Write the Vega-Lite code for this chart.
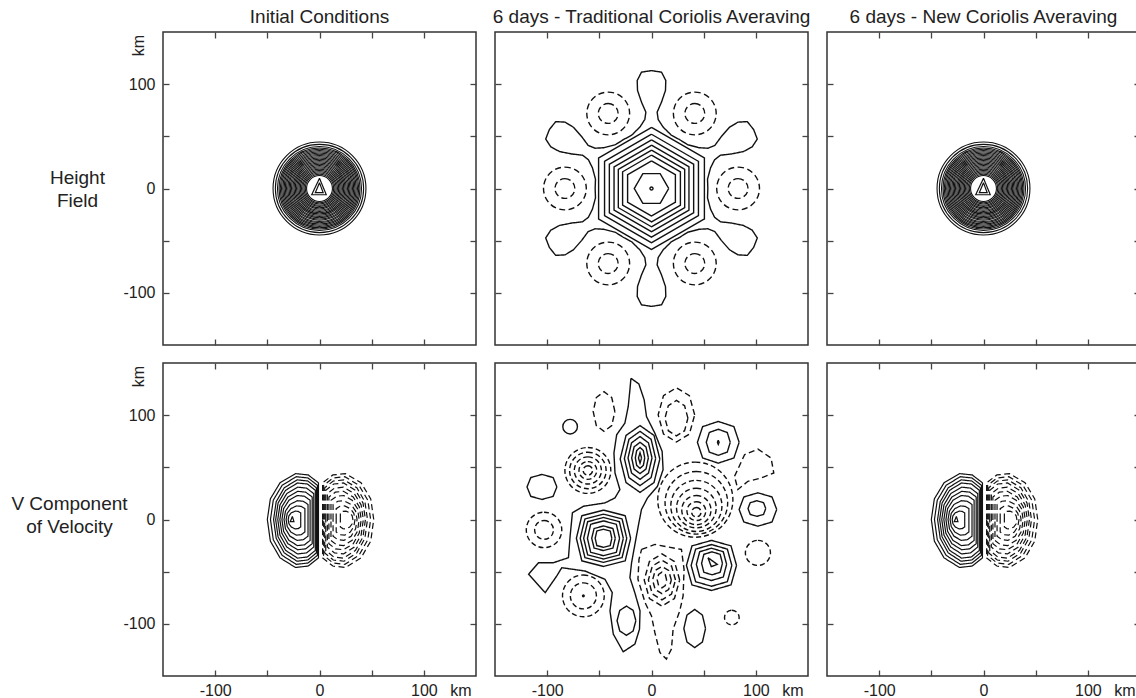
{
"$schema":"https://vega.github.io/schema/vega-lite/v6.json",
"padding":{"left":10,"top":7,"right":0,"bottom":0},
"config":{
 "font":"Liberation Sans",
 "view":{"stroke":"#333","strokeWidth":1.5},
 "axis":{"domain":false,"grid":false,"tickSize":-6,"tickColor":"#444","tickWidth":1.3,"labelFontSize":16,"labelColor":"#222","labelFont":"Liberation Sans","titleFont":"Liberation Sans","titleFontSize":19,"titleFontWeight":"normal","titleColor":"#222"},
 "title":{"anchor":"middle","fontSize":19,"fontWeight":"normal","color":"#222","offset":0,"font":"Liberation Sans"}
},
"datasets":{
"lines":[
{"p":"A","id":"A1","d":"s","xs":[0,-7.5,6.5,0],"ys":[9.8,-6,-6,9.8]},
{"p":"A","id":"A2","d":"s","xs":[0,-4,3.5,0],"ys":[5.5,-4,-4,5.5]},
{"p":"B","id":"H1","d":"s","xs":[0,50.7,50.7,0,-50.7,-50.7,0],"ys":[58.5,29.25,-29.25,-58.5,-29.25,29.25,58.5]},
{"p":"B","id":"H2","d":"s","xs":[0,45,45,0,-45,-45,0],"ys":[52,26,-26,-52,-26,26,52]},
{"p":"B","id":"H3","d":"s","xs":[0,40.4,40.4,0,-40.4,-40.4,0],"ys":[46.6,23.3,-23.3,-46.6,-23.3,23.3,46.6]},
{"p":"B","id":"H4","d":"s","xs":[0,35.9,35.9,0,-35.9,-35.9,0],"ys":[41.5,20.75,-20.75,-41.5,-20.75,20.75,41.5]},
{"p":"B","id":"H5","d":"s","xs":[0,31.8,31.8,0,-31.8,-31.8,0],"ys":[36.7,18.35,-18.35,-36.7,-18.35,18.35,36.7]},
{"p":"B","id":"H6","d":"s","xs":[0,27.7,27.7,0,-27.7,-27.7,0],"ys":[32,16,-16,-32,-16,16,32]},
{"p":"B","id":"H7","d":"s","xs":[0,22.9,22.9,0,-22.9,-22.9,0],"ys":[26.4,13.2,-13.2,-26.4,-13.2,13.2,26.4]},
{"p":"B","id":"H8","d":"s","xs":[16.5,8.25,-8.25,-16.5,-8.25,8.25,16.5],"ys":[0,14.3,14.3,0,-14.3,-14.3,0]},
{"p":"B","id":"star","d":"s",
"xs":[54,53.7,56.6,60.5,66.1,76.5,88.1,96.5,101.4,97.9,91.8,82.8,74.7,66.9,60.7,54.1,45.5,34.6,
27,19.1,11.1,6.4,5.4,9.6,13.4,13.7,9.6,0,-9.6,-13.7,-13.4,-9.6,-5.4,-6.4,-11.1,-19.1,
-27,-34.6,-45.5,-54.1,-60.7,-66.9,-74.7,-82.8,-91.8,-97.9,-101.4,-96.5,-88.1,-76.5,-66.1,-60.5,-56.6,-53.7,
-54,-53.7,-56.6,-60.5,-66.1,-76.5,-88.1,-96.5,-101.4,-97.9,-91.8,-82.8,-74.7,-66.9,-60.7,-54.1,-45.5,-34.6,
-27,-19.1,-11.1,-6.4,-5.4,-9.6,-13.4,-13.7,-9.6,0,9.6,13.7,13.4,9.6,5.4,6.4,11.1,19.1,
27,34.6,45.5,54.1,60.7,66.9,74.7,82.8,91.8,97.9,101.4,96.5,88.1,76.5,66.1,60.5,56.6,53.7,54],
"ys":[0,9,19.8,27.6,31.9,33.1,35.4,39.9,47.4,56.5,64.1,63.6,58.6,49.7,41.3,38.6,39.1,42,
46.8,51,58.9,66.2,73.2,82.8,94,103.5,111.5,113,111.5,103.5,94,82.8,73.2,66.2,58.9,51,
46.8,42,39.1,38.6,41.3,49.7,58.6,63.6,64.1,56.5,47.4,39.9,35.4,33.1,31.9,27.6,19.8,9,
0,-9,-19.8,-27.6,-31.9,-33.1,-35.4,-39.9,-47.4,-56.5,-64.1,-63.6,-58.6,-49.7,-41.3,-38.6,-39.1,-42,
-46.8,-51,-58.9,-66.2,-73.2,-82.8,-94,-103.5,-111.5,-113,-111.5,-103.5,-94,-82.8,-73.2,-66.2,-58.9,-51,
-46.8,-42,-39.1,-38.6,-41.3,-49.7,-58.6,-63.6,-64.1,-56.5,-47.4,-39.9,-35.4,-33.1,-31.9,-27.6,-19.8,-9,0]},
{"p":"D","id":"k0","d":"s","xs":[-1,-1,-10.8,-23,-37.8,-47.1,-50,-47.1,-37.8,-23,-10.8,-1,-1],"ys":[0,35.2,42.7,44,35.2,19.8,0,-20.7,-36.8,-46,-44.6,-36.8,0]},
{"p":"D","id":"k1","d":"s","xs":[-2,-2,-11,-22.3,-35.8,-44.3,-47,-44.3,-35.8,-22.3,-11,-2,-2],"ys":[0,32.8,39.8,41,32.8,18.5,0,-19.4,-34.4,-43,-41.7,-34.4,0]},
{"p":"D","id":"k2","d":"s","xs":[-3,-3,-11.2,-21.5,-33.8,-41.5,-44,-41.5,-33.8,-21.5,-11.2,-3,-3],"ys":[0,30.4,36.9,38,30.4,17.1,0,-18,-32,-40,-38.8,-32,0]},
{"p":"D","id":"k3","d":"s","xs":[-4,-4,-11.6,-21.1,-32.5,-39.7,-42,-39.7,-32.5,-21.1,-11.6,-4,-4],"ys":[0,28,34,35,28,15.8,0,-16.7,-29.6,-37,-35.9,-29.6,0]},
{"p":"D","id":"k4","d":"s","xs":[-5.5,-5.5,-12.4,-21,-31.4,-37.9,-40,-37.9,-31.4,-21,-12.4,-5.5,-5.5],"ys":[0,24.8,30.1,31,24.8,14,0,-14.9,-26.4,-33,-32,-26.4,0]},
{"p":"D","id":"k5","d":"s","xs":[-7,-7,-13.2,-21,-30.3,-36.1,-38,-36.1,-30.3,-21,-13.2,-7,-7],"ys":[0,21.6,26.2,27,21.6,12.2,0,-13.1,-23.2,-29,-28.1,-23.2,0]},
{"p":"D","id":"k6","d":"s","xs":[-9,-9,-14.4,-21.2,-29.3,-34.4,-36,-34.4,-29.3,-21.2,-14.4,-9,-9],"ys":[0,18.4,22.3,23,18.4,10.4,0,-11.3,-20,-25,-24.3,-20,0]},
{"p":"D","id":"k7","d":"s","xs":[-11,-11,-15.6,-21.4,-28.3,-32.6,-34,-32.6,-28.3,-21.4,-15.6,-11,-11],"ys":[0,14.4,17.5,18,14.4,8.1,0,-9,-16,-20,-19.4,-16,0]},
{"p":"D","id":"k8","d":"s","xs":[-14,-14,-17.6,-22.1,-27.5,-30.9,-32,-30.9,-27.5,-22.1,-17.6,-14,-14],"ys":[0,10.4,12.6,13,10.4,5.9,0,-6.8,-12,-15,-14.6,-12,0]},
{"p":"D","id":"k9","d":"s","xs":[-18,-18,-20.4,-23.4,-27,-29.3,-30,-29.3,-27,-23.4,-20.4,-18,-18],"ys":[0,6.4,7.8,8,6.4,3.6,0,-4.1,-7.2,-9,-8.7,-7.2,0]},
{"p":"D","id":"k10","d":"s","xs":[-26,-28,-24.5,-26],"ys":[3,-2,-2,3]},
{"p":"D","id":"m0","d":"d","xs":[3,3,12.8,25,39.8,49.1,52,49.1,39.8,25,12.8,3,3],"ys":[0,35.2,42.7,44,35.2,19.8,0,-20.7,-36.8,-46,-44.6,-36.8,0]},
{"p":"D","id":"m1","d":"d","xs":[4,4,13,24.3,37.8,46.3,49,46.3,37.8,24.3,13,4,4],"ys":[0,32.8,39.8,41,32.8,18.5,0,-19.4,-34.4,-43,-41.7,-34.4,0]},
{"p":"D","id":"m2","d":"d","xs":[5,5,13.2,23.5,35.8,43.5,46,43.5,35.8,23.5,13.2,5,5],"ys":[0,30.4,36.9,38,30.4,17.1,0,-18,-32,-40,-38.8,-32,0]},
{"p":"D","id":"m3","d":"d","xs":[6,6,13.6,23.1,34.5,41.7,44,41.7,34.5,23.1,13.6,6,6],"ys":[0,28,34,35,28,15.8,0,-16.7,-29.6,-37,-35.9,-29.6,0]},
{"p":"D","id":"m4","d":"d","xs":[7.5,7.5,14.4,23,33.4,39.9,42,39.9,33.4,23,14.4,7.5,7.5],"ys":[0,24.8,30.1,31,24.8,14,0,-14.9,-26.4,-33,-32,-26.4,0]},
{"p":"D","id":"m5","d":"d","xs":[9,9,15.2,23,32.3,38.1,40,38.1,32.3,23,15.2,9,9],"ys":[0,21.6,26.2,27,21.6,12.2,0,-13.1,-23.2,-29,-28.1,-23.2,0]},
{"p":"D","id":"m6","d":"d","xs":[11,11,16.4,23.2,31.3,36.4,38,36.4,31.3,23.2,16.4,11,11],"ys":[0,18.4,22.3,23,18.4,10.4,0,-11.3,-20,-25,-24.3,-20,0]},
{"p":"D","id":"m7","d":"d","xs":[13,13,17.6,23.4,30.3,34.6,36,34.6,30.3,23.4,17.6,13,13],"ys":[0,14.4,17.5,18,14.4,8.1,0,-9,-16,-20,-19.4,-16,0]},
{"p":"D","id":"m8","d":"d","xs":[16,16,19.6,24.1,29.5,32.9,34,32.9,29.5,24.1,19.6,16,16],"ys":[0,10.4,12.6,13,10.4,5.9,0,-6.8,-12,-15,-14.6,-12,0]},
{"p":"D","id":"m9","d":"d","xs":[20,20,22.4,25.4,29,31.3,32,31.3,29,25.4,22.4,20,20],"ys":[0,6.4,7.8,8,6.4,3.6,0,-4.1,-7.2,-9,-8.7,-7.2,0]},
{"p":"E","id":"big","d":"s",
"xs":[-19.7,-12.1,-7,-4.8,3.2,10.2,11.1,5.7,-3.8,-9.6,-12.7,-15.9,-19.1,-20.7,-16,-11,-11.5,-15.9,-27.1,-36.6,-39.8,-37.6,-44.6,-63.7,-86,-90.8,-101.9,-117.8,-108.3,-94,-79.6,-78,-75.8,-65.3,-44.6,-35,-30.3,-35,-36,-33.4,-25.5,-22.3,-20.7,-19.7],
"ys":[135.4,129.9,114.6,98.7,82.8,65.3,47.8,31.8,20.7,9.6,-6.4,-23.9,-41.4,-55.7,-70.1,-87.6,-105.1,-119.4,-126.8,-109.9,-87.6,-70.1,-57.3,-49.4,-46.2,-54.1,-70.1,-52.5,-41.4,-41.4,-36.6,-15.9,6.4,12.7,15.9,20.7,28.7,44.6,63.7,81.2,92.4,108.3,124.2,135.4]},
{"p":"E","id":"c1","d":"s","xs":[8,2.4,-11,-24.4,-30,-24.4,-11,2.4,8],"ys":[58,80.6,90,80.6,58,35.4,26,35.4,58]},
{"p":"E","id":"c2","d":"s","xs":[4,-0.4,-11,-21.6,-26,-21.6,-11,-0.4,4],"ys":[58.5,76.9,84.5,76.9,58.5,40.1,32.5,40.1,58.5]},
{"p":"E","id":"c3","d":"s","xs":[0.5,-2.9,-11,-19.1,-22.5,-19.1,-11,-2.9,0.5],"ys":[59,73.5,79.5,73.5,59,44.5,38.5,44.5,59]},
{"p":"E","id":"c4","d":"s","xs":[-3,-5.3,-11,-16.7,-19,-16.7,-11,-5.3,-3],"ys":[59,69.6,74,69.6,59,48.4,44,48.4,59]},
{"p":"E","id":"c5","d":"s","xs":[-6.5,-7.8,-11,-14.2,-15.5,-14.2,-11,-7.8,-6.5],"ys":[59,66.1,69,66.1,59,51.9,49,51.9,59]},
{"p":"E","id":"c6","d":"s","xs":[-9.5,-11,-12.5,-11,-9.5],"ys":[59,64,59,54,59]},
{"p":"E","id":"d1","d":"s","xs":[-20,-25.2,-46,-66.8,-72,-66.8,-46,-25.2,-20],"ys":[-18,3.6,9,3.6,-18,-39.6,-45,-39.6,-18]},
{"p":"E","id":"d2","d":"s","xs":[-23.7,-28.2,-46,-63.8,-68.3,-63.8,-46,-28.2,-23.7],"ys":[-18,0.5,5.1,0.5,-18,-36.5,-41.1,-36.5,-18]},
{"p":"E","id":"d3","d":"s","xs":[-27,-30.8,-46,-61.2,-65,-61.2,-46,-30.8,-27],"ys":[-18,-2.1,1.9,-2.1,-18,-33.9,-37.9,-33.9,-18]},
{"p":"E","id":"d4","d":"s","xs":[-30.6,-33.7,-46,-58.3,-61.4,-58.3,-46,-33.7,-30.6],"ys":[-18,-4.6,-1.3,-4.6,-18,-31.4,-34.7,-31.4,-18]},
{"p":"E","id":"d5","d":"s","xs":[-34.7,-37,-46,-55,-57.3,-55,-46,-37,-34.7],"ys":[-18,-8.6,-6.2,-8.6,-18,-27.4,-29.8,-27.4,-18]},
{"p":"E","id":"d6","d":"s","xs":[-38,-39.6,-46,-52.4,-54,-52.4,-46,-39.6,-38],"ys":[-18,-11,-9.3,-11,-18,-25,-26.7,-25,-18]},
{"p":"E","id":"e1","d":"s","xs":[81.5,76.2,57.5,38.8,33.5,38.8,57.5,76.2,81.5],"ys":[-44,-25.3,-20,-25.3,-44,-62.7,-68,-62.7,-44]},
{"p":"E","id":"e2","d":"s","xs":[77,72.7,57.5,42.3,38,42.3,57.5,72.7,77],"ys":[-44,-28.4,-24,-28.4,-44,-59.6,-64,-59.6,-44]},
{"p":"E","id":"e3","d":"s","xs":[72,68.8,57.5,46.2,43,46.2,57.5,68.8,72],"ys":[-43,-30.9,-27.5,-30.9,-43,-55.1,-58.5,-55.1,-43]},
{"p":"E","id":"e4","d":"s","xs":[68,65.8,58,50.2,48,50.2,58,65.8,68],"ys":[-42,-33.4,-31,-33.4,-42,-50.6,-53,-50.6,-42]},
{"p":"E","id":"e5","d":"s","xs":[54.1,63,57.3,54.1],"ys":[-36.6,-43,-45.2,-36.6]},
{"p":"E","id":"f1","d":"s","xs":[84,79,64,49,44,49,64,79,84],"ys":[74,89,94,89,74,59,54,59,74]},
{"p":"E","id":"f2","d":"s","xs":[75.5,72.6,64,55.4,52.5,55.4,64,72.6,75.5],"ys":[74,83.4,86.5,83.4,74,64.6,61.5,64.6,74]},
{"p":"E","id":"f3","d":"s","xs":[64,64.8,64,63.2,64],"ys":[76,74,72,74,76]},
{"p":"E","id":"g1","d":"s","xs":[120,115.5,102,88.5,84,88.5,102,115.5,120],"ys":[9.6,21.6,25.6,21.6,9.6,-2.4,-6.4,-2.4,9.6]},
{"p":"E","id":"g2","d":"s","xs":[109.5,107.4,101,94.6,92.5,94.6,101,107.4,109.5],"ys":[10.5,16.1,18,16.1,10.5,4.9,3,4.9,10.5]},
{"p":"E","id":"b","d":"s","xs":[-90.7,-94.3,-105,-115.7,-119.3,-115.7,-105,-94.3,-90.7],"ys":[31.2,40.2,43.2,40.2,31.2,22.2,19.2,22.2,31.2]},
{"p":"E","id":"h","d":"s","xs":[-15,-17.6,-24,-30.4,-33,-30.4,-24,-17.6,-15],"ys":[-97,-87.1,-83,-87.1,-97,-106.9,-111,-106.9,-97]},
{"p":"E","id":"i","d":"s","xs":[51.8,48.8,41.4,34,31,34,41.4,48.8,51.8],"ys":[-104.5,-91.6,-86.2,-91.6,-104.5,-117.4,-122.8,-117.4,-104.5]},
{"p":"E","id":"k","d":"d","xs":[-35.1,-38.1,-45.5,-52.9,-55.9,-52.9,-45.5,-38.1,-35.1],"ys":[103.5,116.9,122.5,116.9,103.5,90.1,84.5,90.1,103.5]},
{"p":"E","id":"l1","d":"d","xs":[41.4,36.3,23.9,11.5,6.4,11.5,23.9,36.3,41.4],"ys":[100.3,118.7,126.3,118.7,100.3,81.9,74.3,81.9,100.3]},
{"p":"E","id":"l2","d":"d","xs":[34.9,31.7,23.9,16.1,12.9,16.1,23.9,31.7,34.9],"ys":[97.1,109.1,114.1,109.1,97.1,85.1,80.1,85.1,97.1]},
{"p":"E","id":"q","d":"d","xs":[79.6,89.2,102,114.6,117.2,105.1,92.4,82.8,79.6],"ys":[41.4,62.1,67.5,58.9,44.6,39.8,36.6,28.7,41.4]},
{"p":"E","id":"t","d":"d","xs":[-9.5,3.2,28.7,31.2,30.3,27.1,20.7,19.1,14.3,8,3.2,0,-6,-13,-12,-9.5],"ys":[-28.7,-23.9,-28.7,-47.8,-73.2,-87.6,-105.1,-124.2,-133.8,-127.4,-108.3,-92.4,-80,-57.3,-38.2,-28.7]},
{"p":"E","id":"t1","d":"d","xs":[27,22,10,-2,-7,-2,10,22,27],"ys":[-58,-40.3,-33,-40.3,-58,-75.7,-83,-75.7,-58]},
{"p":"E","id":"t2","d":"d","xs":[23,19.2,10,0.8,-3,0.8,10,19.2,23],"ys":[-58,-44.6,-39,-44.6,-58,-71.4,-77,-71.4,-58]},
{"p":"E","id":"t3","d":"d","xs":[19,16.4,10,3.6,1,3.6,10,16.4,19],"ys":[-58,-48.8,-45,-48.8,-58,-67.2,-71,-67.2,-58]},
{"p":"E","id":"t4","d":"d","xs":[14.5,13.2,10,6.8,5.5,6.8,10,13.2,14.5],"ys":[-58,-52.7,-50.5,-52.7,-58,-63.3,-65.5,-63.3,-58]}
],
"circ":[
{"p":"A","cx":0,"cy":0,"r":44.5,"d":"s"},{"p":"A","cx":0,"cy":0,"r":42.3,"d":"s"},{"p":"A","cx":0,"cy":0,"r":40.3,"d":"s"},
{"p":"A","cx":0,"cy":0,"r":38.8,"d":"s"},{"p":"A","cx":0,"cy":0,"r":37.6,"d":"s"},{"p":"A","cx":0,"cy":0,"r":36.4,"d":"s"},{"p":"A","cx":0,"cy":0,"r":35.2,"d":"s"},
{"p":"A","cx":0,"cy":0,"r":34,"d":"s"},{"p":"A","cx":0,"cy":0,"r":32.8,"d":"s"},{"p":"A","cx":0,"cy":0,"r":31.6,"d":"s"},{"p":"A","cx":0,"cy":0,"r":30.4,"d":"s"},
{"p":"A","cx":0,"cy":0,"r":29.2,"d":"s"},{"p":"A","cx":0,"cy":0,"r":28,"d":"s"},{"p":"A","cx":0,"cy":0,"r":26.8,"d":"s"},{"p":"A","cx":0,"cy":0,"r":25.6,"d":"s"},
{"p":"A","cx":0,"cy":0,"r":24.4,"d":"s"},{"p":"A","cx":0,"cy":0,"r":23.2,"d":"s"},{"p":"A","cx":0,"cy":0,"r":22,"d":"s"},{"p":"A","cx":0,"cy":0,"r":20.8,"d":"s"},
{"p":"A","cx":0,"cy":0,"r":19.6,"d":"s"},{"p":"A","cx":0,"cy":0,"r":18.4,"d":"s"},{"p":"A","cx":0,"cy":0,"r":17.2,"d":"s"},{"p":"A","cx":0,"cy":0,"r":16,"d":"s"},
{"p":"A","cx":0,"cy":0,"r":14.8,"d":"s"},{"p":"A","cx":0,"cy":0,"r":13.6,"d":"s"},{"p":"A","cx":0,"cy":0,"r":12.4,"d":"s"},
{"p":"B","cx":83,"cy":0,"r":20.5,"d":"d"},{"p":"B","cx":83,"cy":0,"r":9.5,"d":"d"},
{"p":"B","cx":41.5,"cy":71.9,"r":20.5,"d":"d"},{"p":"B","cx":41.5,"cy":71.9,"r":9.5,"d":"d"},
{"p":"B","cx":-41.5,"cy":71.9,"r":20.5,"d":"d"},{"p":"B","cx":-41.5,"cy":71.9,"r":9.5,"d":"d"},
{"p":"B","cx":-83,"cy":0,"r":20.5,"d":"d"},{"p":"B","cx":-83,"cy":0,"r":9.5,"d":"d"},
{"p":"B","cx":-41.5,"cy":-71.9,"r":20.5,"d":"d"},{"p":"B","cx":-41.5,"cy":-71.9,"r":9.5,"d":"d"},
{"p":"B","cx":41.5,"cy":-71.9,"r":20.5,"d":"d"},{"p":"B","cx":41.5,"cy":-71.9,"r":9.5,"d":"d"},
{"p":"B","cx":0,"cy":0,"r":1.5,"d":"s"},
{"p":"E","cx":-78,"cy":89,"r":7,"d":"s"},
{"p":"E","cx":-61,"cy":47,"r":22,"d":"d"},{"p":"E","cx":-61,"cy":47,"r":17.5,"d":"d"},{"p":"E","cx":-61,"cy":47,"r":13,"d":"d"},{"p":"E","cx":-61,"cy":47,"r":8.5,"d":"d"},{"p":"E","cx":-61,"cy":47,"r":4.5,"d":"d"},
{"p":"E","cx":-103,"cy":-10,"r":17,"d":"d"},{"p":"E","cx":-103,"cy":-10,"r":9,"d":"d"},
{"p":"E","cx":-65.3,"cy":-73.2,"r":20,"d":"d"},{"p":"E","cx":-65.3,"cy":-73.2,"r":12.5,"d":"d"},{"p":"E","cx":-65.3,"cy":-73.2,"r":0.8,"d":"s"},
{"p":"E","cx":42,"cy":19,"r":36,"d":"d"},{"p":"E","cx":43,"cy":16,"r":30,"d":"d"},{"p":"E","cx":43,"cy":13,"r":24.5,"d":"d"},{"p":"E","cx":43,"cy":11,"r":19,"d":"d"},{"p":"E","cx":43,"cy":9,"r":14,"d":"d"},{"p":"E","cx":43,"cy":8,"r":9,"d":"d"},{"p":"E","cx":43,"cy":7,"r":4.5,"d":"d"},
{"p":"E","cx":102,"cy":-32,"r":12,"d":"d"},
{"p":"E","cx":77,"cy":-94,"r":7,"d":"d"}
]
},
"columns":3,
"spacing":{"row":18,"column":19},
"bounds":"flush",
"concat":[
{"width":313,"height":313,"title":"Initial Conditions","resolve":{"axis":{"x":"independent","y":"independent"}},
 "layer":[
  {"data":{"values":[{"x":0,"y":0}]},"mark":{"type":"point","opacity":0},"encoding":{
   "x":{"field":"x","type":"quantitative","scale":{"domain":[-150,150],"nice":false,"zero":false},"axis":{"orient":"bottom","values":[-100,-50,0,50,100],"labels":false,"title":null}},
   "y":{"field":"y","type":"quantitative","scale":{"domain":[-150,150],"nice":false,"zero":false},"axis":{"orient":"left","values":[-100,-50,0,50,100,137.5],"labelExpr":"datum.value > 120 ? 'km' : (abs(datum.value) == 50 ? '' : '' + datum.value)","tickOpacity":{"condition":{"test":"datum.value > 120","value":0},"value":1},"labelPadding":{"condition":{"test":"datum.value > 120","value":23},"value":14},"labelAlign":{"condition":{"test":"datum.value > 120","value":"center"},"value":"right"},"labelBaseline":{"condition":{"test":"datum.value > 120","value":"bottom"},"value":"middle"},"labelAngle":{"expr":"datum.value > 120 ? 270 : 0"},"labelOverlap":false,"labelFlush":false,"title":["Height","Field"],"titleAngle":0,"titleAlign":"center","titleBaseline":"middle","titleX":-86,"titleY":145,"titleLineHeight":23}}}},
  {"data":{"values":[{"x":0,"y":0}]},"mark":{"type":"point","opacity":0},"encoding":{
   "x":{"field":"x","type":"quantitative","scale":{"domain":[-150,150],"nice":false,"zero":false},"axis":{"orient":"top","values":[-100,-50,0,50,100],"labels":false,"title":null}},
   "y":{"field":"y","type":"quantitative","scale":{"domain":[-150,150],"nice":false,"zero":false},"axis":{"orient":"right","values":[-100,-50,0,50,100],"labels":false,"title":null}}}},
  {"data":{"name":"lines"},"transform":[{"filter":"datum.p == 'A'"},{"flatten":["xs","ys"]}],"mark":{"type":"line","stroke":"#111","strokeWidth":1.2,"clip":true},"encoding":{
   "x":{"field":"xs","type":"quantitative","scale":{"domain":[-150,150],"nice":false,"zero":false},"axis":null},
   "y":{"field":"ys","type":"quantitative","scale":{"domain":[-150,150],"nice":false,"zero":false},"axis":null},
   "detail":{"field":"id","type":"nominal"},"order":{"value":null},
   "strokeDash":{"field":"d","type":"nominal","scale":{"domain":["s","d"],"range":[[1,0],[6,3.5]]},"legend":null}}},
  {"data":{"name":"circ"},"transform":[{"filter":"datum.p == 'A'"}],"mark":{"type":"arc","theta":0,"theta2":6.2832,"filled":false,"stroke":"#111","strokeWidth":1.1,"clip":true},"encoding":{
   "x":{"field":"cx","type":"quantitative","scale":{"domain":[-150,150],"nice":false,"zero":false},"axis":null},
   "y":{"field":"cy","type":"quantitative","scale":{"domain":[-150,150],"nice":false,"zero":false},"axis":null},
   "radius":{"field":"r","type":"quantitative","stack":null,"scale":{"type":"linear","domain":[0,150],"range":[0,156.5]}}}}
 ]},
{"width":313,"height":313,"title":"6 days - Traditional Coriolis Averaving","resolve":{"axis":{"x":"independent","y":"independent"}},
 "layer":[
  {"data":{"values":[{"x":0,"y":0}]},"mark":{"type":"point","opacity":0},"encoding":{
   "x":{"field":"x","type":"quantitative","scale":{"domain":[-150,150],"nice":false,"zero":false},"axis":{"orient":"bottom","values":[-100,-50,0,50,100],"labels":false,"title":null}},
   "y":{"field":"y","type":"quantitative","scale":{"domain":[-150,150],"nice":false,"zero":false},"axis":{"orient":"left","values":[-100,-50,0,50,100],"labels":false,"title":null}}}},
  {"data":{"values":[{"x":0,"y":0}]},"mark":{"type":"point","opacity":0},"encoding":{
   "x":{"field":"x","type":"quantitative","scale":{"domain":[-150,150],"nice":false,"zero":false},"axis":{"orient":"top","values":[-100,-50,0,50,100],"labels":false,"title":null}},
   "y":{"field":"y","type":"quantitative","scale":{"domain":[-150,150],"nice":false,"zero":false},"axis":{"orient":"right","values":[-100,-50,0,50,100],"labels":false,"title":null}}}},
  {"data":{"name":"lines"},"transform":[{"filter":"datum.p == 'B'"},{"flatten":["xs","ys"]}],"mark":{"type":"line","stroke":"#111","strokeWidth":1.4,"clip":true},"encoding":{
   "x":{"field":"xs","type":"quantitative","scale":{"domain":[-150,150],"nice":false,"zero":false},"axis":null},
   "y":{"field":"ys","type":"quantitative","scale":{"domain":[-150,150],"nice":false,"zero":false},"axis":null},
   "detail":{"field":"id","type":"nominal"},"order":{"value":null},
   "strokeDash":{"field":"d","type":"nominal","scale":{"domain":["s","d"],"range":[[1,0],[6,3.5]]},"legend":null}}},
  {"data":{"name":"circ"},"transform":[{"filter":"datum.p == 'B' && datum.d == 's'"}],"mark":{"type":"arc","theta":0,"theta2":6.2832,"filled":false,"stroke":"#111","strokeWidth":1.4,"clip":true},"encoding":{
   "x":{"field":"cx","type":"quantitative","scale":{"domain":[-150,150],"nice":false,"zero":false},"axis":null},
   "y":{"field":"cy","type":"quantitative","scale":{"domain":[-150,150],"nice":false,"zero":false},"axis":null},
   "radius":{"field":"r","type":"quantitative","stack":null,"scale":{"type":"linear","domain":[0,150],"range":[0,156.5]}}}},
  {"data":{"name":"circ"},"transform":[{"filter":"datum.p == 'B' && datum.d == 'd'"}],"mark":{"type":"arc","theta":0,"theta2":6.2832,"filled":false,"stroke":"#111","strokeWidth":1.4,"strokeDash":[6,3.5],"clip":true},"encoding":{
   "x":{"field":"cx","type":"quantitative","scale":{"domain":[-150,150],"nice":false,"zero":false},"axis":null},
   "y":{"field":"cy","type":"quantitative","scale":{"domain":[-150,150],"nice":false,"zero":false},"axis":null},
   "radius":{"field":"r","type":"quantitative","stack":null,"scale":{"type":"linear","domain":[0,150],"range":[0,156.5]}}}}
 ]},
{"width":313,"height":313,"title":"6 days - New Coriolis Averaving","resolve":{"axis":{"x":"independent","y":"independent"}},
 "layer":[
  {"data":{"values":[{"x":0,"y":0}]},"mark":{"type":"point","opacity":0},"encoding":{
   "x":{"field":"x","type":"quantitative","scale":{"domain":[-150,150],"nice":false,"zero":false},"axis":{"orient":"bottom","values":[-100,-50,0,50,100],"labels":false,"title":null}},
   "y":{"field":"y","type":"quantitative","scale":{"domain":[-150,150],"nice":false,"zero":false},"axis":{"orient":"left","values":[-100,-50,0,50,100],"labels":false,"title":null}}}},
  {"data":{"values":[{"x":0,"y":0}]},"mark":{"type":"point","opacity":0},"encoding":{
   "x":{"field":"x","type":"quantitative","scale":{"domain":[-150,150],"nice":false,"zero":false},"axis":{"orient":"top","values":[-100,-50,0,50,100],"labels":false,"title":null}},
   "y":{"field":"y","type":"quantitative","scale":{"domain":[-150,150],"nice":false,"zero":false},"axis":{"orient":"right","values":[-100,-50,0,50,100],"labels":false,"title":null}}}},
  {"data":{"name":"lines"},"transform":[{"filter":"datum.p == 'A'"},{"flatten":["xs","ys"]}],"mark":{"type":"line","stroke":"#111","strokeWidth":1.2,"clip":true},"encoding":{
   "x":{"field":"xs","type":"quantitative","scale":{"domain":[-150,150],"nice":false,"zero":false},"axis":null},
   "y":{"field":"ys","type":"quantitative","scale":{"domain":[-150,150],"nice":false,"zero":false},"axis":null},
   "detail":{"field":"id","type":"nominal"},"order":{"value":null},
   "strokeDash":{"field":"d","type":"nominal","scale":{"domain":["s","d"],"range":[[1,0],[6,3.5]]},"legend":null}}},
  {"data":{"name":"circ"},"transform":[{"filter":"datum.p == 'A'"}],"mark":{"type":"arc","theta":0,"theta2":6.2832,"filled":false,"stroke":"#111","strokeWidth":1.1,"clip":true},"encoding":{
   "x":{"field":"cx","type":"quantitative","scale":{"domain":[-150,150],"nice":false,"zero":false},"axis":null},
   "y":{"field":"cy","type":"quantitative","scale":{"domain":[-150,150],"nice":false,"zero":false},"axis":null},
   "radius":{"field":"r","type":"quantitative","stack":null,"scale":{"type":"linear","domain":[0,150],"range":[0,156.5]}}}}
 ]},
{"width":313,"height":313,"resolve":{"axis":{"x":"independent","y":"independent"}},
 "layer":[
  {"data":{"values":[{"x":0,"y":0}]},"mark":{"type":"point","opacity":0},"encoding":{
   "x":{"field":"x","type":"quantitative","scale":{"domain":[-150,150],"nice":false,"zero":false},"axis":{"orient":"bottom","values":[-100,-50,0,50,100,135],"labelExpr":"datum.value == 135 ? 'km' : (abs(datum.value) == 50 ? '' : '' + datum.value)","tickOpacity":{"condition":{"test":"datum.value == 135","value":0},"value":1},"labelPadding":12,"labelOverlap":false,"labelFlush":false,"title":null}},
   "y":{"field":"y","type":"quantitative","scale":{"domain":[-150,150],"nice":false,"zero":false},"axis":{"orient":"left","values":[-100,-50,0,50,100,137.5],"labelExpr":"datum.value > 120 ? 'km' : (abs(datum.value) == 50 ? '' : '' + datum.value)","tickOpacity":{"condition":{"test":"datum.value > 120","value":0},"value":1},"labelPadding":{"condition":{"test":"datum.value > 120","value":23},"value":14},"labelAlign":{"condition":{"test":"datum.value > 120","value":"center"},"value":"right"},"labelBaseline":{"condition":{"test":"datum.value > 120","value":"bottom"},"value":"middle"},"labelAngle":{"expr":"datum.value > 120 ? 270 : 0"},"labelOverlap":false,"labelFlush":false,"title":["V Component","of Velocity"],"titleAngle":0,"titleAlign":"center","titleBaseline":"middle","titleX":-94,"titleY":140,"titleLineHeight":23}}}},
  {"data":{"values":[{"x":0,"y":0}]},"mark":{"type":"point","opacity":0},"encoding":{
   "x":{"field":"x","type":"quantitative","scale":{"domain":[-150,150],"nice":false,"zero":false},"axis":{"orient":"top","values":[-100,-50,0,50,100],"labels":false,"title":null}},
   "y":{"field":"y","type":"quantitative","scale":{"domain":[-150,150],"nice":false,"zero":false},"axis":{"orient":"right","values":[-100,-50,0,50,100],"labels":false,"title":null}}}},
  {"data":{"name":"lines"},"transform":[{"filter":"datum.p == 'D'"},{"flatten":["xs","ys"]}],"mark":{"type":"line","stroke":"#111","strokeWidth":1.2,"clip":true},"encoding":{
   "x":{"field":"xs","type":"quantitative","scale":{"domain":[-150,150],"nice":false,"zero":false},"axis":null},
   "y":{"field":"ys","type":"quantitative","scale":{"domain":[-150,150],"nice":false,"zero":false},"axis":null},
   "detail":{"field":"id","type":"nominal"},"order":{"value":null},
   "strokeDash":{"field":"d","type":"nominal","scale":{"domain":["s","d"],"range":[[1,0],[4,2.5]]},"legend":null}}}
 ]},
{"width":313,"height":313,"resolve":{"axis":{"x":"independent","y":"independent"}},
 "layer":[
  {"data":{"values":[{"x":0,"y":0}]},"mark":{"type":"point","opacity":0},"encoding":{
   "x":{"field":"x","type":"quantitative","scale":{"domain":[-150,150],"nice":false,"zero":false},"axis":{"orient":"bottom","values":[-100,-50,0,50,100,135],"labelExpr":"datum.value == 135 ? 'km' : (abs(datum.value) == 50 ? '' : '' + datum.value)","tickOpacity":{"condition":{"test":"datum.value == 135","value":0},"value":1},"labelPadding":12,"labelOverlap":false,"labelFlush":false,"title":null}},
   "y":{"field":"y","type":"quantitative","scale":{"domain":[-150,150],"nice":false,"zero":false},"axis":{"orient":"left","values":[-100,-50,0,50,100],"labels":false,"title":null}}}},
  {"data":{"values":[{"x":0,"y":0}]},"mark":{"type":"point","opacity":0},"encoding":{
   "x":{"field":"x","type":"quantitative","scale":{"domain":[-150,150],"nice":false,"zero":false},"axis":{"orient":"top","values":[-100,-50,0,50,100],"labels":false,"title":null}},
   "y":{"field":"y","type":"quantitative","scale":{"domain":[-150,150],"nice":false,"zero":false},"axis":{"orient":"right","values":[-100,-50,0,50,100],"labels":false,"title":null}}}},
  {"data":{"name":"lines"},"transform":[{"filter":"datum.p == 'E'"},{"flatten":["xs","ys"]}],"mark":{"type":"line","stroke":"#111","strokeWidth":1.4,"clip":true},"encoding":{
   "x":{"field":"xs","type":"quantitative","scale":{"domain":[-150,150],"nice":false,"zero":false},"axis":null},
   "y":{"field":"ys","type":"quantitative","scale":{"domain":[-150,150],"nice":false,"zero":false},"axis":null},
   "detail":{"field":"id","type":"nominal"},"order":{"value":null},
   "strokeDash":{"field":"d","type":"nominal","scale":{"domain":["s","d"],"range":[[1,0],[5,3]]},"legend":null}}},
  {"data":{"name":"circ"},"transform":[{"filter":"datum.p == 'E' && datum.d == 's'"}],"mark":{"type":"arc","theta":0,"theta2":6.2832,"filled":false,"stroke":"#111","strokeWidth":1.4,"clip":true},"encoding":{
   "x":{"field":"cx","type":"quantitative","scale":{"domain":[-150,150],"nice":false,"zero":false},"axis":null},
   "y":{"field":"cy","type":"quantitative","scale":{"domain":[-150,150],"nice":false,"zero":false},"axis":null},
   "radius":{"field":"r","type":"quantitative","stack":null,"scale":{"type":"linear","domain":[0,150],"range":[0,156.5]}}}},
  {"data":{"name":"circ"},"transform":[{"filter":"datum.p == 'E' && datum.d == 'd'"}],"mark":{"type":"arc","theta":0,"theta2":6.2832,"filled":false,"stroke":"#111","strokeWidth":1.4,"strokeDash":[5,3],"clip":true},"encoding":{
   "x":{"field":"cx","type":"quantitative","scale":{"domain":[-150,150],"nice":false,"zero":false},"axis":null},
   "y":{"field":"cy","type":"quantitative","scale":{"domain":[-150,150],"nice":false,"zero":false},"axis":null},
   "radius":{"field":"r","type":"quantitative","stack":null,"scale":{"type":"linear","domain":[0,150],"range":[0,156.5]}}}}
 ]},
{"width":313,"height":313,"resolve":{"axis":{"x":"independent","y":"independent"}},
 "layer":[
  {"data":{"values":[{"x":0,"y":0}]},"mark":{"type":"point","opacity":0},"encoding":{
   "x":{"field":"x","type":"quantitative","scale":{"domain":[-150,150],"nice":false,"zero":false},"axis":{"orient":"bottom","values":[-100,-50,0,50,100,135],"labelExpr":"datum.value == 135 ? 'km' : (abs(datum.value) == 50 ? '' : '' + datum.value)","tickOpacity":{"condition":{"test":"datum.value == 135","value":0},"value":1},"labelPadding":12,"labelOverlap":false,"labelFlush":false,"title":null}},
   "y":{"field":"y","type":"quantitative","scale":{"domain":[-150,150],"nice":false,"zero":false},"axis":{"orient":"left","values":[-100,-50,0,50,100],"labels":false,"title":null}}}},
  {"data":{"values":[{"x":0,"y":0}]},"mark":{"type":"point","opacity":0},"encoding":{
   "x":{"field":"x","type":"quantitative","scale":{"domain":[-150,150],"nice":false,"zero":false},"axis":{"orient":"top","values":[-100,-50,0,50,100],"labels":false,"title":null}},
   "y":{"field":"y","type":"quantitative","scale":{"domain":[-150,150],"nice":false,"zero":false},"axis":{"orient":"right","values":[-100,-50,0,50,100],"labels":false,"title":null}}}},
  {"data":{"name":"lines"},"transform":[{"filter":"datum.p == 'D'"},{"flatten":["xs","ys"]}],"mark":{"type":"line","stroke":"#111","strokeWidth":1.2,"clip":true},"encoding":{
   "x":{"field":"xs","type":"quantitative","scale":{"domain":[-150,150],"nice":false,"zero":false},"axis":null},
   "y":{"field":"ys","type":"quantitative","scale":{"domain":[-150,150],"nice":false,"zero":false},"axis":null},
   "detail":{"field":"id","type":"nominal"},"order":{"value":null},
   "strokeDash":{"field":"d","type":"nominal","scale":{"domain":["s","d"],"range":[[1,0],[4,2.5]]},"legend":null}}}
 ]}
]
}
